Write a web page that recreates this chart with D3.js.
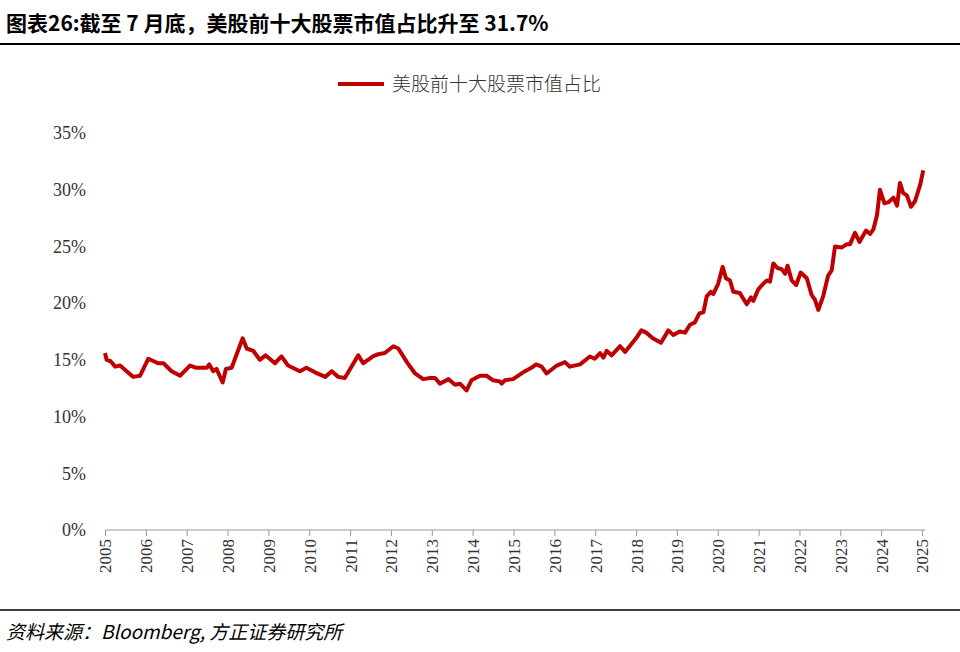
<!DOCTYPE html>
<html><head><meta charset="utf-8">
<script src="https://cdn.jsdelivr.net/npm/d3@7"></script>
<style>body{margin:0;background:#fff}</style>
</head><body><div id="chart"></div>
<script>
// values (decimal year, share in %)
const dates = [2005.0,2005.04,2005.13,2005.25,2005.37,2005.53,2005.69,2005.86,2006.06,2006.3,2006.43,2006.63,2006.84,
  2007.08,2007.24,2007.49,2007.55,2007.65,2007.73,2007.88,2007.96,2008.1,2008.37,2008.47,2008.63,2008.79,2008.93,
  2009.16,2009.32,2009.48,2009.77,2009.93,2010.14,2010.39,2010.55,2010.71,2010.87,2011.2,2011.32,2011.44,2011.56,
  2011.69,2011.85,2012.06,2012.18,2012.39,2012.59,2012.79,2012.96,2013.08,2013.2,2013.41,2013.57,2013.69,2013.85,
  2013.97,2014.18,2014.34,2014.5,2014.67,2014.71,2014.79,2014.99,2015.28,2015.44,2015.55,2015.69,2015.81,2016.06,
  2016.26,2016.38,2016.63,2016.87,2016.99,2017.12,2017.2,2017.28,2017.4,2017.61,2017.73,2018.0,2018.13,2018.25,
  2018.41,2018.61,2018.79,2018.91,2019.07,2019.2,2019.32,2019.44,2019.55,2019.65,2019.73,2019.83,2019.89,2020.01,
  2020.12,2020.2,2020.3,2020.38,2020.54,2020.71,2020.81,2020.87,2020.99,2021.11,2021.2,2021.28,2021.36,2021.46,
  2021.56,2021.65,2021.71,2021.81,2021.92,2022.03,2022.18,2022.3,2022.38,2022.46,2022.58,2022.7,2022.79,2022.87,
  2023.03,2023.16,2023.24,2023.36,2023.47,2023.63,2023.73,2023.81,2023.9,2023.97,2024.08,2024.18,2024.3,2024.39,
  2024.46,2024.54,2024.63,2024.73,2024.83,2024.96,2025.03];
const shares = [15.6,15.0,14.9,14.4,14.5,14.0,13.5,13.6,15.1,14.7,14.7,14.0,13.6,
  14.5,14.3,14.3,14.6,14.0,14.2,13.0,14.2,14.3,16.9,16.0,15.8,15.0,15.4,
  14.7,15.3,14.5,14.0,14.3,13.9,13.5,14.0,13.5,13.4,15.4,14.7,15.0,15.3,
  15.5,15.6,16.2,16.0,14.8,13.8,13.3,13.4,13.4,12.9,13.3,12.8,12.9,12.3,
  13.2,13.6,13.6,13.2,13.1,12.9,13.2,13.3,14.0,14.3,14.6,14.4,13.8,14.5,
  14.8,14.4,14.6,15.3,15.1,15.6,15.2,15.8,15.4,16.2,15.7,16.9,17.6,17.4,
  16.9,16.5,17.6,17.2,17.5,17.4,18.1,18.3,19.1,19.2,20.6,21.0,20.8,21.7,
  23.2,22.2,22.0,21.0,20.9,19.9,20.5,20.2,21.2,21.7,22.0,21.9,23.5,23.1,
  23.0,22.6,23.3,22.0,21.6,22.7,22.2,20.7,20.3,19.4,20.6,22.4,22.9,25.0,
  24.9,25.2,25.2,26.2,25.4,26.4,26.1,26.5,27.8,30.0,28.8,28.9,29.3,28.6,
  30.6,29.7,29.5,28.5,29.0,30.5,31.7];
const yearTicks = d3.range(2005, 2026);
const pctTicks = [0, 5, 10, 15, 20, 25, 30, 35];
const title = "图表26:截至 7 月底，美股前十大股票市值占比升至 31.7%";
const seriesName = "美股前十大股票市值占比";
const source = "资料来源：Bloomberg, 方正证券研究所";

const width = 960, height = 652;
const margin = {top: 133, right: 38, bottom: 122, left: 105};
const red = "#c00000";
const serif = "'Liberation Serif', 'Noto Sans CJK SC', serif";

const svg = d3.select("#chart").append("svg").attr("width", width).attr("height", height);

svg.append("text").attr("x", 6).attr("y", 31)
  .attr("font-family", "'Noto Sans CJK SC', sans-serif").attr("font-weight", "bold")
  .attr("font-size", 21).text(title);
svg.append("line").attr("x1", 0).attr("x2", width).attr("y1", 44).attr("y2", 44)
  .attr("stroke", "#000").attr("stroke-width", 2);

// legend
const lg = svg.append("g").attr("transform", "translate(338,84)");
lg.append("line").attr("x1", 0).attr("x2", 46).attr("stroke", red).attr("stroke-width", 4);
lg.append("text").attr("x", 54).attr("y", 7).attr("font-family", "'Noto Sans CJK SC', sans-serif")
  .attr("font-size", 19).attr("font-weight", 300).attr("fill", "#333").text(seriesName);

const xScale = d3.scaleLinear().domain([2005, 2025]).range([margin.left, 922]);
const yScale = d3.scaleLinear().domain([0, 35]).range([height - margin.bottom, margin.top]);

const yAxis = svg.append("g").attr("transform", `translate(${margin.left - 16},0)`)
  .call(d3.axisLeft(yScale).tickValues(pctTicks).tickSize(0).tickFormat(d => d + "%"));
yAxis.select(".domain").remove();
yAxis.selectAll("text").attr("font-family", serif).attr("font-size", 18).attr("fill", "#333");

const xAxis = svg.append("g").attr("transform", `translate(0,${height - margin.bottom})`)
  .call(d3.axisBottom(xScale).tickValues(yearTicks).tickSize(6).tickFormat(d3.format("d")));
xAxis.select(".domain").attr("d", `M${margin.left},0H925`).attr("stroke", "#999");
xAxis.selectAll(".tick line").attr("stroke", "#999");
xAxis.selectAll("text").attr("font-family", serif).attr("font-size", 17).attr("fill", "#333")
  .attr("transform", "rotate(-90)").attr("text-anchor", "end")
  .attr("x", -9).attr("y", 0).attr("dy", "0.35em");

const line = d3.line().x((d, i) => xScale(dates[i])).y(d => yScale(d)).curve(d3.curveLinear);
svg.append("path").datum(shares).attr("d", line)
  .attr("fill", "none").attr("stroke", red).attr("stroke-width", 4).attr("stroke-linejoin", "round");

svg.append("line").attr("x1", 0).attr("x2", width).attr("y1", 610).attr("y2", 610)
  .attr("stroke", "#000").attr("stroke-width", 1.5);
svg.append("text").attr("x", 6).attr("y", 639)
  .attr("font-family", "'Noto Sans CJK SC', sans-serif").attr("font-style", "italic")
  .attr("font-size", 19).text(source);
</script></body></html>
